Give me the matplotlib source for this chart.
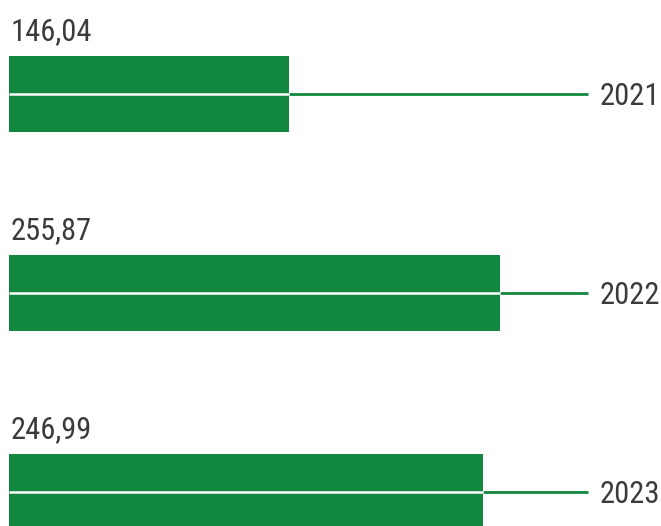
import matplotlib.pyplot as plt

years = ["2021", "2022", "2023"]
values = [146.04, 255.87, 246.99]
value_labels = ["146,04", "255,87", "246,99"]

green = "#11873f"
text_color = "#3b3b3b"
plt.rcParams["font.family"] = ["Roboto Condensed", "Liberation Sans Narrow", "Roboto", "DejaVu Sans"]

px_per_unit = 1.92
left_px = 9
line_end = (588 - left_px) / px_per_unit
label_x = (600 - left_px) / px_per_unit

fig = plt.figure(figsize=(6.61, 5.26), dpi=100)
ax = fig.add_axes([0, 0, 1, 1])

pos = list(range(len(years)))
ax.barh(pos, values, height=0.377, color=green, left=0)

for i, v in enumerate(values):
    # connector from the bar end to the year label
    ax.plot([v, line_end], [i, i], color=green, lw=2, solid_capstyle="butt")
    # thin white stripe through the middle of the bar
    ax.plot([0, v], [i, i], color="white", lw=1.8, solid_capstyle="butt")
    ax.text(1, i - 0.272, value_labels[i], fontsize=22, color=text_color,
            ha="left", va="baseline")
    ax.text(label_x, i + 0.015, years[i], fontsize=22, color=text_color,
            ha="left", va="center")

ax.set_xlim(-left_px / px_per_unit, (661 - left_px) / px_per_unit)
ax.set_ylim(526 / 199 - 94 / 199, -94 / 199)
ax.axis("off")

fig.savefig("out.png", dpi=100)
